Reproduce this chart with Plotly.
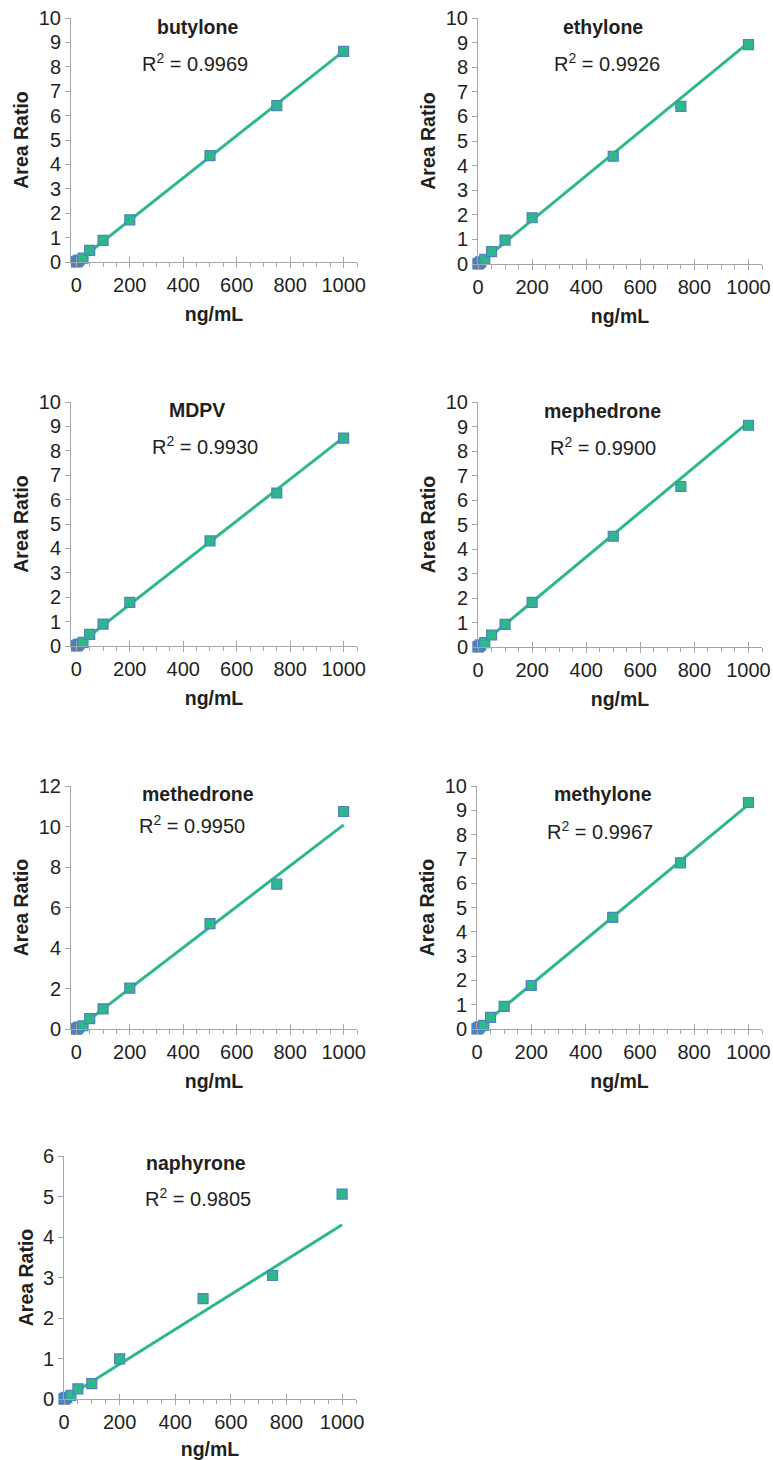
import plotly.graph_objects as go

# ---------------- data ----------------
compounds = ["butylone", "ethylone", "MDPV", "mephedrone", "methedrone", "methylone", "naphyrone"]
r_squared = ["0.9969", "0.9926", "0.9930", "0.9900", "0.9950", "0.9967", "0.9805"]

conc_low = [0.5, 1, 2, 5, 10]                 # ng/mL, lowest calibrators (blue cluster)
conc = [25, 50, 100, 200, 500, 750, 1000]     # ng/mL

butylone_low = [0.00, 0.01, 0.02, 0.04, 0.08]
butylone = [0.16, 0.48, 0.89, 1.73, 4.36, 6.41, 8.63]
ethylone_low = [0.00, 0.01, 0.02, 0.04, 0.09]
ethylone = [0.19, 0.50, 0.97, 1.88, 4.38, 6.41, 8.92]
mdpv_low = [0.00, 0.01, 0.02, 0.04, 0.08]
mdpv = [0.15, 0.48, 0.90, 1.79, 4.31, 6.27, 8.52]
mephedrone_low = [0.00, 0.01, 0.02, 0.04, 0.09]
mephedrone = [0.18, 0.49, 0.92, 1.82, 4.52, 6.55, 9.05]
methedrone_low = [0.00, 0.01, 0.02, 0.05, 0.10]
methedrone = [0.16, 0.51, 0.99, 2.02, 5.20, 7.15, 10.74]
methylone_low = [0.00, 0.01, 0.02, 0.04, 0.09]
methylone = [0.15, 0.48, 0.93, 1.79, 4.59, 6.84, 9.32]
naphyrone_low = [0.00, 0.00, 0.01, 0.02, 0.04]
naphyrone = [0.09, 0.25, 0.38, 0.99, 2.48, 3.05, 5.06]

low_values = [butylone_low, ethylone_low, mdpv_low, mephedrone_low,
              methedrone_low, methylone_low, naphyrone_low]
values = [butylone, ethylone, mdpv, mephedrone, methedrone, methylone, naphyrone]

# linear trendlines (slope, intercept) as drawn in the reference
trend_slope = [0.00866, 0.00902, 0.00856, 0.00918, 0.01010, 0.00925, 0.00430]
trend_intercept = [-0.02, -0.02, -0.01, 0.00, -0.02, -0.02, 0.00]

y_max = [10, 10, 10, 10, 12, 10, 6]
y_dtick = [1, 1, 1, 1, 2, 1, 1]
x_min = [-20, 0, -20, 0, -20, 0, 0]
x_max = 1050

# ---------------- layout geometry (pixels) ----------------
W, H = 773, 1460
# (left, right, top, bottom) of each plot area
boxes = [
    (71, 357, 18, 262),
    (478, 762, 18, 264),
    (71, 357, 402, 646),
    (478, 762, 402, 647),
    (71, 357, 786, 1029),
    (477, 762, 786, 1029),
    (64, 356, 1156, 1399),
]
# annotation positions as fractions of each plot area (title, R2)
title_pos = [(0.444, 0.963), (0.44, 0.963), (0.44, 0.967), (0.44, 0.963),
             (0.444, 0.967), (0.442, 0.967), (0.452, 0.971)]
r2_pos = [(0.434, 0.816), (0.454, 0.821), (0.469, 0.82), (0.44, 0.82),
          (0.423, 0.84), (0.432, 0.815), (0.459, 0.831)]

LINE_C = "#2db88b"
FILL_C = "#2fb78c"
EDGE_C = "#4f81bd"
AXIS_C = "#a6a6a6"
TEXT_C = "#231f20"
FONT = "Liberation Sans, Arial, Helvetica, sans-serif"
TICK_FS = 20
LABEL_FS = 19.5
TEXT_FS = 20

fig = go.Figure()
layout = dict(
    width=W, height=H, margin=dict(l=0, r=0, t=0, b=0),
    paper_bgcolor="white", plot_bgcolor="white", showlegend=False,
    font=dict(family=FONT, color=TEXT_C, size=TICK_FS),
)
annotations = []
n = len(compounds)
for i in range(n):
    k = i + 1
    xs = "" if k == 1 else str(k)
    xa, ya = "x" + xs, "y" + xs
    l, r, t, b = boxes[i]
    xdom = [l / W, r / W]
    ydom = [1 - b / H, 1 - t / H]

    # trendline
    x_line = [conc_low[0], conc[-1]]
    y_line = [trend_slope[i] * xv + trend_intercept[i] for xv in x_line]
    fig.add_trace(go.Scatter(x=x_line, y=y_line, mode="lines",
                             line=dict(color=LINE_C, width=3),
                             xaxis=xa, yaxis=ya, hoverinfo="skip"))
    # low calibrators
    fig.add_trace(go.Scatter(x=conc_low, y=low_values[i], mode="markers",
                             marker=dict(symbol="square", size=10, color=EDGE_C,
                                         line=dict(color=EDGE_C, width=1.2)),
                             cliponaxis=False, xaxis=xa, yaxis=ya))
    # calibrators
    fig.add_trace(go.Scatter(x=conc, y=values[i], mode="markers",
                             marker=dict(symbol="square", size=10, color=FILL_C,
                                         line=dict(color=EDGE_C, width=1.2)),
                             cliponaxis=False, xaxis=xa, yaxis=ya))

    layout["xaxis" + xs] = dict(
        domain=xdom, anchor=ya, range=[x_min[i], x_max],
        tick0=0, dtick=200, ticks="outside", ticklen=5, tickcolor=AXIS_C,
        minor=dict(dtick=50, tick0=0, ticks="outside", ticklen=4, tickcolor=AXIS_C),
        showline=True, linecolor=AXIS_C, linewidth=1,
        showgrid=False, zeroline=False,
        tickfont=dict(size=TICK_FS, color=TEXT_C),
        title=dict(text="<b>ng/mL</b>", font=dict(size=LABEL_FS, color=TEXT_C), standoff=12),
        automargin=False,
    )
    layout["yaxis" + xs] = dict(
        domain=ydom, anchor=xa, range=[0, y_max[i]],
        tick0=0, dtick=y_dtick[i], ticks="outside", ticklen=5, tickcolor=AXIS_C,
        showline=True, linecolor=AXIS_C, linewidth=1,
        showgrid=False, zeroline=False,
        tickfont=dict(size=TICK_FS, color=TEXT_C),
        title=dict(text="<b>Area Ratio</b>", font=dict(size=LABEL_FS, color=TEXT_C), standoff=4),
        automargin=False,
    )
    # overlay axis giving the inner half of crossing major ticks
    ko = n + k
    layout["xaxis" + str(ko)] = dict(
        domain=xdom, anchor=ya, overlaying=xa, range=[x_min[i], x_max],
        tick0=0, dtick=200, ticks="inside", ticklen=5, tickcolor=AXIS_C,
        showticklabels=False, showline=False, showgrid=False, zeroline=False,
    )
    fig.add_trace(go.Scatter(x=[None], y=[None], mode="markers",
                             xaxis="x" + str(ko), yaxis=ya, hoverinfo="skip"))

    tx, ty = title_pos[i]
    annotations.append(dict(
        text="<b>" + compounds[i] + "</b>", xref=xa + " domain", yref=ya + " domain",
        x=tx, y=ty, xanchor="center", yanchor="middle", showarrow=False,
        font=dict(size=LABEL_FS, color=TEXT_C)))
    rx, ry = r2_pos[i]
    annotations.append(dict(
        text="R<sup>2</sup> = " + r_squared[i], xref=xa + " domain", yref=ya + " domain",
        x=rx, y=ry, xanchor="center", yanchor="middle", showarrow=False,
        font=dict(size=TEXT_FS, color=TEXT_C)))

layout["annotations"] = annotations
fig.update_layout(**layout)
fig.write_html("out.html", config={"displayModeBar": False},
               post_script="document.body.style.margin='0';document.body.style.overflow='hidden';")
